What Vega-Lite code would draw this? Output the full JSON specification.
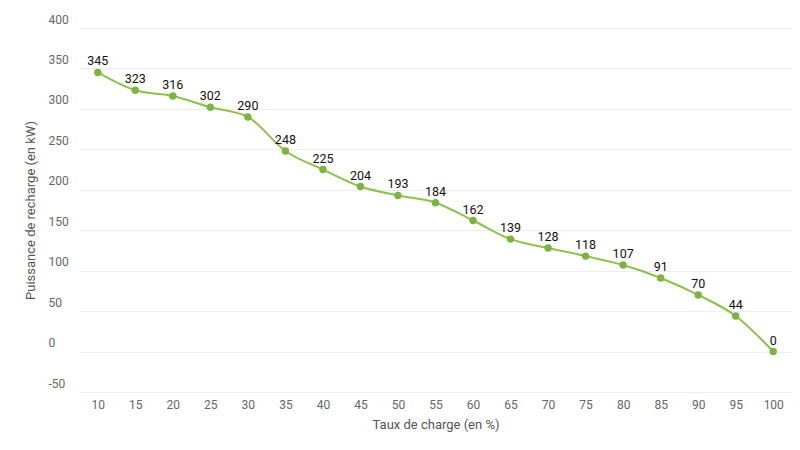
{
  "$schema": "https://vega.github.io/schema/vega-lite/v6.json",
  "autosize": {"type": "none"},
  "padding": {"left": 79, "top": 28, "right": 8, "bottom": 58},
  "width": 713,
  "height": 364,
  "background": "white",
  "config": {
    "font": "Roboto",
    "view": {"stroke": null},
    "axis": {
      "labelColor": "#666666",
      "labelFontSize": 12,
      "titleColor": "#555555",
      "titleFontSize": 13,
      "titleFontWeight": "normal",
      "domain": false,
      "ticks": false
    }
  },
  "data": {
    "values": [
      {"taux": 10, "puissance": 345},
      {"taux": 15, "puissance": 323},
      {"taux": 20, "puissance": 316},
      {"taux": 25, "puissance": 302},
      {"taux": 30, "puissance": 290},
      {"taux": 35, "puissance": 248},
      {"taux": 40, "puissance": 225},
      {"taux": 45, "puissance": 204},
      {"taux": 50, "puissance": 193},
      {"taux": 55, "puissance": 184},
      {"taux": 60, "puissance": 162},
      {"taux": 65, "puissance": 139},
      {"taux": 70, "puissance": 128},
      {"taux": 75, "puissance": 118},
      {"taux": 80, "puissance": 107},
      {"taux": 85, "puissance": 91},
      {"taux": 90, "puissance": 70},
      {"taux": 95, "puissance": 44},
      {"taux": 100, "puissance": 0}
    ]
  },
  "encoding": {
    "x": {
      "field": "taux",
      "type": "ordinal",
      "sort": "ascending",
      "scale": {"type": "point", "padding": 0.5},
      "axis": {
        "title": "Taux de charge (en %)",
        "labelAngle": 0,
        "labelPadding": 7,
        "titlePadding": 8,
        "grid": false
      }
    },
    "y": {
      "field": "puissance",
      "type": "quantitative",
      "scale": {"domain": [-50, 400], "nice": false},
      "axis": {
        "title": "Puissance de recharge (en kW)",
        "values": [-50, 0, 50, 100, 150, 200, 250, 300, 350, 400],
        "labelExpr": "replace(datum.label, '\u2212', '-')",
        "labelAlign": "left",
        "labelBaseline": "bottom",
        "labelOffset": -2,
        "labelPadding": 31,
        "titlePadding": 11,
        "gridColor": "#eeeeee"
      }
    }
  },
  "layer": [
    {
      "mark": {"type": "line", "color": "#8bc34a", "strokeWidth": 2, "interpolate": "monotone"}
    },
    {
      "mark": {"type": "point", "filled": true, "opacity": 1, "color": "#7cb342", "size": 55}
    },
    {
      "mark": {"type": "text", "dy": -11, "fontSize": 12.5, "color": "#111111"},
      "encoding": {"text": {"field": "puissance", "type": "quantitative"}}
    }
  ]
}
